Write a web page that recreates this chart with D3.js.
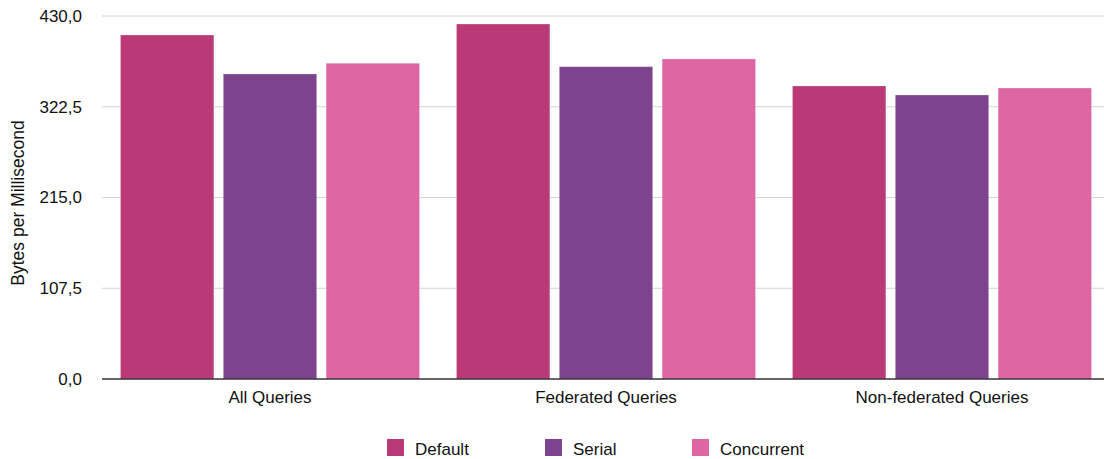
<!DOCTYPE html>
<html>
<head>
<meta charset="utf-8">
<script src="https://cdn.jsdelivr.net/npm/d3@7"></script>
<style>
  html, body { margin: 0; padding: 0; background: #fff; }
  svg { display: block; font-family: "Liberation Sans", Arial, Helvetica, sans-serif; }
</style>
</head>
<body>
<svg id="chart" width="1104" height="459"></svg>
<script>
// Throughput per query group, in bytes per millisecond
const categories = ["All Queries", "Federated Queries", "Non-federated Queries"];
const seriesNames = ["Default", "Serial", "Concurrent"];
const defaultValues = [407.5, 420.5, 347.1];
const serialValues = [361.3, 370.0, 336.4];
const concurrentValues = [374.0, 379.1, 344.7];
const yTicks = [0, 107.5, 215, 322.5, 430];
const colors = ["#BA3A78", "#7D448D", "#DE67A3"];

const seriesValues = [defaultValues, serialValues, concurrentValues];
const rows = categories.map((c, i) => ({
  category: c,
  values: seriesNames.map((s, j) => ({ series: s, value: seriesValues[j][i] }))
}));

const svg = d3.select("#chart");
const plotLeft = 102, plotRight = 1110, plotTop = 16, plotBottom = 379;

const x0 = d3.scaleBand().domain(categories).range([plotLeft, plotRight]).paddingInner(0.11).paddingOuter(0.055);
const x1 = d3.scaleBand().domain(seriesNames).range([0, x0.bandwidth()]).paddingInner(0.092);
const y = d3.scaleLinear().domain([0, 430]).range([plotBottom, plotTop]);
const color = d3.scaleOrdinal().domain(seriesNames).range(colors);

const locale = d3.formatLocale({ decimal: ",", thousands: ".", grouping: [3], currency: ["", ""] });
const fmt = locale.format(".1f");

// Horizontal gridlines
svg.append("g")
  .selectAll("line")
  .data(yTicks.filter(d => d > 0))
  .join("line")
  .attr("x1", plotLeft).attr("x2", 1104)
  .attr("y1", d => y(d)).attr("y2", d => y(d))
  .attr("stroke", "#d4d4d4").attr("stroke-width", 1);

// Y axis labels
const yAxis = svg.append("g")
  .attr("transform", `translate(${plotLeft},0)`)
  .call(d3.axisLeft(y).tickValues(yTicks).tickFormat(fmt).tickSize(0).tickPadding(20));
yAxis.select(".domain").remove();
yAxis.selectAll("text")
  .attr("font-size", 17)
  .attr("fill", "#111")
  .attr("font-family", "'Liberation Sans', Arial, sans-serif");

// Bars
svg.append("g")
  .selectAll("g")
  .data(rows)
  .join("g")
  .attr("transform", d => `translate(${x0(d.category)},0)`)
  .selectAll("rect")
  .data(d => d.values)
  .join("rect")
  .attr("x", d => x1(d.series))
  .attr("y", d => y(d.value))
  .attr("width", x1.bandwidth())
  .attr("height", d => y(0) - y(d.value))
  .attr("fill", d => color(d.series))
  .attr("stroke", "rgba(255,255,255,0.25)")
  .attr("stroke-width", 1);

// Baseline and category labels
const xAxis = svg.append("g")
  .attr("transform", `translate(0,${plotBottom})`)
  .call(d3.axisBottom(x0).tickSize(0).tickPadding(12));
xAxis.select(".domain").remove();
xAxis.selectAll("text")
  .attr("font-size", 17)
  .attr("fill", "#111")
  .attr("font-family", "'Liberation Sans', Arial, sans-serif");
svg.append("line")
  .attr("x1", plotLeft).attr("x2", 1104)
  .attr("y1", plotBottom).attr("y2", plotBottom)
  .attr("stroke", "#333").attr("stroke-width", 1.5);

// Y axis title
svg.append("text")
  .attr("transform", `translate(24,203) rotate(-90)`)
  .attr("text-anchor", "middle")
  .attr("font-size", 17.5)
  .attr("fill", "#111")
  .text("Bytes per Millisecond");

// Legend
const legendX = [387, 545, 692];
const legend = svg.append("g")
  .selectAll("g")
  .data(seriesNames)
  .join("g")
  .attr("transform", (d, i) => `translate(${legendX[i]},439)`);
legend.append("rect")
  .attr("width", 17).attr("height", 17)
  .attr("fill", d => color(d));
legend.append("text")
  .attr("x", 28).attr("y", 16)
  .attr("font-size", 17)
  .attr("fill", "#111")
  .text(d => d);
</script>
</body>
</html>
